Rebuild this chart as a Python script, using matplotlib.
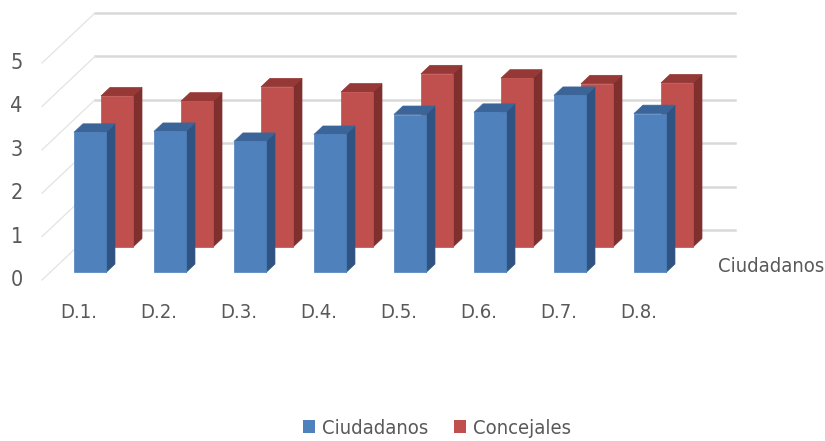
import matplotlib
matplotlib.use('Agg')
import matplotlib.pyplot as plt
from matplotlib.patches import Polygon, Patch
from matplotlib import font_manager

categorias = ['D.1.', 'D.2.', 'D.3.', 'D.4.', 'D.5.', 'D.6.', 'D.7.', 'D.8.']
ciudadanos = [3.23, 3.25, 3.02, 3.18, 3.64, 3.69, 4.08, 3.66]
concejales = [3.48, 3.36, 3.69, 3.57, 3.99, 3.89, 3.76, 3.78]
ticks_valor = [0, 1, 2, 3, 4, 5]

# fuente estrecha si la hay; si no, una normal algo mas pequena
fuentes = font_manager.fontManager.ttflist
if any(f.name == 'Liberation Sans Narrow' for f in fuentes):
    FUENTE = dict(family='Liberation Sans Narrow', fontsize=16.5)
elif any(f.name == 'DejaVu Sans' and f.stretch == 'condensed' for f in fuentes):
    FUENTE = dict(family='DejaVu Sans', fontstretch='condensed', fontsize=14.5)
else:
    FUENTE = dict(family='Liberation Sans', fontsize=14.5)
plt.rcParams['font.family'] = [FUENTE['family'], 'DejaVu Sans']
if 'fontstretch' in FUENTE:
    plt.rcParams['font.stretch'] = FUENTE['fontstretch']
TAM = FUENTE['fontsize']

GRIS_TEXTO = '#595959'
GRIS_REJILLA = '#d9d9d9'
AZUL = ('#4f81bd', '#2f5382', '#3b6598')   # frente, lado, techo
ROJO = ('#c0504d', '#7f2f2d', '#953836')

# proyeccion oblicua: z va de 0 (plano frontal) a 1 (pared del fondo)
DX, DY = 0.6625, 1.152


def proyectar(x, v, z):
    return x + z * DX, v + z * DY


def barra_3d(ax, xc, valor, z0, z1, ancho, colores, zorder):
    frente, lado, techo = colores
    x0, x1 = xc - ancho / 2, xc + ancho / 2
    cara_lado = [proyectar(x1, 0, z0), proyectar(x1, valor, z0),
                 proyectar(x1, valor, z1), proyectar(x1, 0, z1)]
    cara_techo = [proyectar(x0, valor, z0), proyectar(x1, valor, z0),
                  proyectar(x1, valor, z1), proyectar(x0, valor, z1)]
    cara_frente = [proyectar(x0, 0, z0), proyectar(x1, 0, z0),
                   proyectar(x1, valor, z0), proyectar(x0, valor, z0)]
    for caras, color in ((cara_lado, lado), (cara_techo, techo), (cara_frente, frente)):
        ax.add_patch(Polygon(caras, closed=True, facecolor=color,
                             edgecolor=color, linewidth=0.5, zorder=zorder))


fig = plt.figure(figsize=(8.25, 4.41), dpi=100)
ax = fig.add_axes([0, 0, 1, 1])
ax.set_xlim(-1.025, 9.2875)
ax.set_ylim(-3.7097, 6.4516)
ax.axis('off')

n = len(categorias)
# rejilla de la pared del fondo y lineas de la pared lateral
for v in ticks_valor:
    xa, ya = proyectar(-0.5, v, 1)
    xb, yb = proyectar(n - 0.5, v, 1)
    ax.plot([xa, xb], [ya, yb], color=GRIS_REJILLA, lw=1.8, zorder=1)
    xf, yf = proyectar(-0.5, v, 0)
    ax.plot([xf, xa], [yf, ya], color='#e3e3e3', lw=0.9, zorder=1)
    ax.text(xf - 0.24, yf, str(v), ha='right', va='center',
            fontsize=TAM + 1, color=GRIS_TEXTO)

ancho = 0.4
for i, val in enumerate(concejales):
    barra_3d(ax, i, val, 0.66, 0.83, ancho, ROJO, zorder=2)
for i, val in enumerate(ciudadanos):
    barra_3d(ax, i, val, 0.15, 0.32, ancho, AZUL, zorder=3)

for i, cat in enumerate(categorias):
    ax.text(i - 0.04, -0.76, cat, ha='center', va='center', fontsize=TAM, color=GRIS_TEXTO)

ax.text(7.95, 0.3, 'Ciudadanos', ha='left', va='center', fontsize=TAM, color=GRIS_TEXTO)

handles = [Patch(facecolor=AZUL[0], label='Ciudadanos'),
           Patch(facecolor=ROJO[0], label='Concejales')]
leg = fig.legend(handles=handles, loc='center', bbox_to_anchor=(437 / 825, 1 - 428 / 441),
                 ncol=2, frameon=False, fontsize=TAM, handlelength=0.6, handleheight=0.6,
                 handletextpad=0.35, columnspacing=1.3)
for t in leg.get_texts():
    t.set_color(GRIS_TEXTO)

fig.savefig('out.png', dpi=100)
